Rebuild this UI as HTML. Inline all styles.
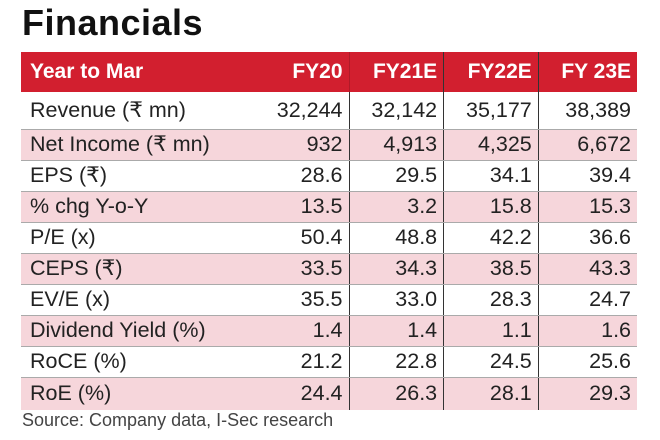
<!DOCTYPE html>
<html><head><style>
body{margin:0;width:660px;height:440px;background:#fff;font-family:"Liberation Sans",sans-serif;position:relative;overflow:hidden}
.t{position:absolute;left:22px;top:2px;font-size:36px;font-weight:bold;color:#111;letter-spacing:0.5px}
table{position:absolute;left:21px;top:52px;width:616px;border-collapse:collapse;font-size:21.5px;color:#222}
td{height:31px;padding:0 6px;text-align:right;border-bottom:1px solid #aaa;white-space:nowrap;box-sizing:border-box}
td:first-child{text-align:left;padding-left:9px}
td:nth-child(2),td:nth-child(3),td:nth-child(4){border-right:1px solid #333}
tr.h td{background:#d21f2f;color:#fff;font-weight:bold;height:40px;border-bottom:none;font-size:21px}
tr.h td:nth-child(2){border-right:1px solid #b01a28}
tr.r1 td{height:37px}
tr.p td{background:#f6d6db}
tr:last-child td{border-bottom:none;height:33px}
.s{position:absolute;left:22px;top:410px;font-size:18px;color:#444}
</style></head><body>
<div class="t">Financials</div>
<table>
<tr class="h"><td>Year to Mar</td><td>FY20</td><td>FY21E</td><td>FY22E</td><td>FY 23E</td></tr>
<tr class="r1"><td>Revenue (₹ mn)</td><td>32,244</td><td>32,142</td><td>35,177</td><td>38,389</td></tr>
<tr class="p"><td>Net Income (₹ mn)</td><td>932</td><td>4,913</td><td>4,325</td><td>6,672</td></tr>
<tr><td>EPS (₹)</td><td>28.6</td><td>29.5</td><td>34.1</td><td>39.4</td></tr>
<tr class="p"><td>% chg Y-o-Y</td><td>13.5</td><td>3.2</td><td>15.8</td><td>15.3</td></tr>
<tr><td>P/E (x)</td><td>50.4</td><td>48.8</td><td>42.2</td><td>36.6</td></tr>
<tr class="p"><td>CEPS (₹)</td><td>33.5</td><td>34.3</td><td>38.5</td><td>43.3</td></tr>
<tr><td>EV/E (x)</td><td>35.5</td><td>33.0</td><td>28.3</td><td>24.7</td></tr>
<tr class="p"><td>Dividend Yield (%)</td><td>1.4</td><td>1.4</td><td>1.1</td><td>1.6</td></tr>
<tr><td>RoCE (%)</td><td>21.2</td><td>22.8</td><td>24.5</td><td>25.6</td></tr>
<tr class="p"><td>RoE (%)</td><td>24.4</td><td>26.3</td><td>28.1</td><td>29.3</td></tr>
</table>
<div class="s">Source: Company data, I-Sec research</div>
</body></html>
